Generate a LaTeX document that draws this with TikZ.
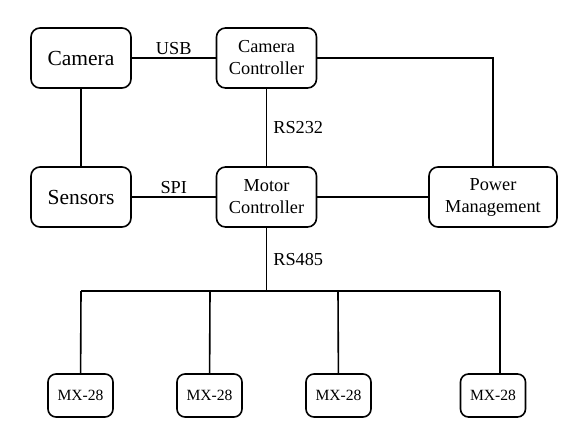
\documentclass[tikz,border=0pt]{standalone}
\usepackage{fontspec}
\setmainfont{Liberation Serif}
\usepackage{tikz}
\tikzstyle{block} = [draw, rounded corners=9pt, minimum width=100pt, minimum height=60pt, inner sep=0pt, align=center, font=\fontsize{18.3}{22}\selectfont]
\tikzstyle{big} = [font=\fontsize{21.5}{24}\selectfont]
\tikzstyle{servo} = [draw, rounded corners=8pt, minimum width=65pt, minimum height=43pt, inner sep=0pt, font=\fontsize{15.6}{18}\selectfont]
\tikzstyle{lbl} = [font=\fontsize{18.3}{22}\selectfont, inner sep=2pt]

\begin{document}
\begin{tikzpicture}[x=1pt,y=-1pt,line width=1.6pt]
	  \useasboundingbox (0,0) rectangle (583,437);
	  \node (cam) at ( 81,58) [block,big] {Camera};
	  \node (cc) at ( 266.5,58) [block] {Camera\\Controller};
	  \node (sen) at ( 81,197) [block,big] {Sensors};
	  \node (mc) at ( 266.5,197) [block] {Motor\\Controller};
	  \node (pm) at ( 493,197) [block, minimum width=128pt] {Power\\Management};
	  \node (m1) at ( 80.5,395.5) [servo] {MX-28};
	  \node (m2) at ( 209.5,395.5) [servo] {MX-28};
	  \node (m3) at ( 338.5,395.5) [servo] {MX-28};
	  \node (m4) at ( 493,395.5) [servo] {MX-28};
	  \coordinate (bus) at ( 266.5,291);
	  \coordinate (b1) at ( 81,291);
	  \coordinate (b2) at ( 210,291);
	  \coordinate (b3) at ( 338,291);
	  \coordinate (b4) at ( 500,291);

	  \draw (cam) to node [lbl,above=1pt] {USB} (cc);
	  \draw (cam) to (sen);
	  \draw (cc) to node [lbl,right=4pt] {RS232} (mc);
	  \draw (cc.east) -| (pm.north);
	  \draw (sen) to node [lbl,above=1pt] {SPI} (mc);
	  \draw (mc) to (pm);
	  \draw (mc) to node [lbl,right=4pt] {RS485} (bus);
	  \draw (b1) to (b4);
	  \draw (b1) to (m1);
	  \draw (b2) to (m2);
	  \draw (b3) to (m3);
	  \draw (b4) to (b4 |- m4.north);
	\end{tikzpicture}
\end{document}
